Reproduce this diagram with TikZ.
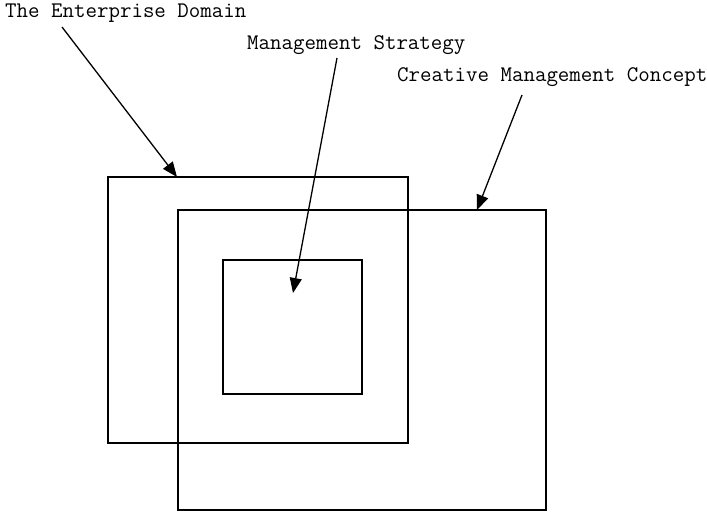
\documentclass[tikz,border=0pt]{standalone}
\usetikzlibrary{arrows.meta}
\begin{document}
\begin{tikzpicture}[x=1pt,y=-1pt,
  box/.style={draw,line width=1.3pt},
  lab/.style={font=\fontsize{22.3}{24}\ttfamily,inner sep=0pt,anchor=west},
  pointer/.style={line width=1.3pt,-{Triangle[length=15pt,width=12pt]}}]
\useasboundingbox (0,0) rectangle (707,512);
\node[box,minimum width=300pt,minimum height=266pt,inner sep=0pt] (ent) at (258,310) {};
\node[box,minimum width=368pt,minimum height=300pt,inner sep=0pt] (cre) at (362,360) {};
\node[box,minimum width=139pt,minimum height=134pt,inner sep=0pt] (str) at (292.5,327) {};
\node[lab] (tent) at (5,13) {The Enterprise Domain};
\node[lab] (tstr) at (247,45) {Management Strategy};
\node[lab] (tcre) at (397,77) {Creative Management Concept};
\coordinate (a1) at (62,27);
\coordinate (a2) at (337,58);
\coordinate (a3) at (522,95);
\coordinate (e1) at (177,177);
\coordinate (e2) at (293,293);
\coordinate (e3) at (477,210);
\draw[pointer] (a1) -- (e1);
\draw[pointer] (a2) -- (e2);
\draw[pointer] (a3) -- (e3);
\end{tikzpicture}
\end{document}
